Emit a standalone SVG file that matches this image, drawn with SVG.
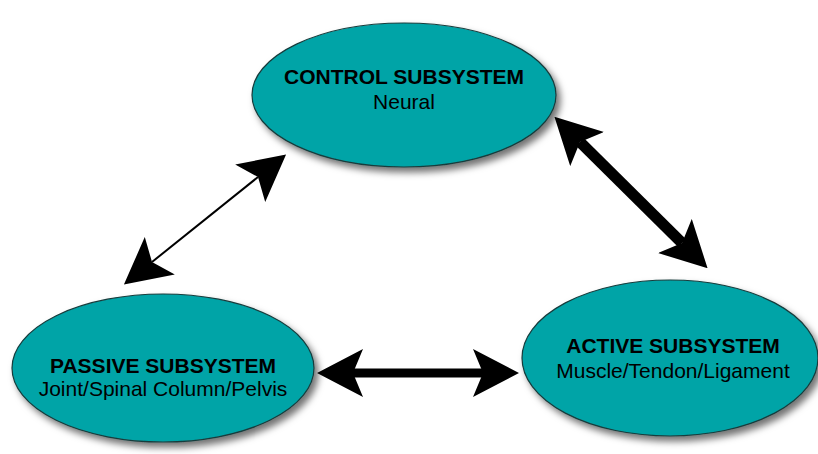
<svg xmlns="http://www.w3.org/2000/svg" width="818" height="454" viewBox="0 0 818 454">
  <style>
    .node { fill: #02a4a7; stroke: #163c3c; stroke-width: 1.2; filter: url(#shadow); }
    .title { font-family: "Liberation Sans", Arial, sans-serif; font-size: 21px; font-weight: bold; fill: #000; text-anchor: middle; }
    .sub { font-family: "Liberation Sans", Arial, sans-serif; font-size: 21px; fill: #000; text-anchor: middle; }
    .link { stroke: #000; fill: none; marker-start: url(#head); marker-end: url(#head); }
  </style>
  <defs>
    <filter id="shadow" x="-10%" y="-10%" width="130%" height="130%">
      <feDropShadow dx="4" dy="5" stdDeviation="3.5" flood-color="#000" flood-opacity="0.55"/>
    </filter>
    <marker id="head" markerUnits="userSpaceOnUse" viewBox="0 0 46 48" markerWidth="46" markerHeight="48" refX="10" refY="24" orient="auto-start-reverse">
      <path d="M0,0 L46,24 L0,48 L10,24 Z" fill="#000"/>
    </marker>
  </defs>

  <g id="connectors">
    <line class="link" x1="152" y1="262" x2="258" y2="177" stroke-width="2"/>
    <line class="link" x1="580" y1="142" x2="682" y2="243" stroke-width="11"/>
    <line class="link" x1="353" y1="373" x2="483" y2="373" stroke-width="9"/>
  </g>

  <g id="control">
    <ellipse class="node" cx="404" cy="95" rx="152" ry="72"/>
    <text class="title" x="404" y="84">CONTROL SUBSYSTEM</text>
    <text class="sub" x="404" y="109">Neural</text>
  </g>

  <g id="passive">
    <ellipse class="node" cx="163" cy="368" rx="151" ry="74"/>
    <text class="title" x="163" y="373">PASSIVE SUBSYSTEM</text>
    <text class="sub" x="163" y="396">Joint/Spinal Column/Pelvis</text>
  </g>

  <g id="active">
    <ellipse class="node" cx="670" cy="358" rx="148" ry="78"/>
    <text class="title" x="673" y="353">ACTIVE SUBSYSTEM</text>
    <text class="sub" x="673" y="378">Muscle/Tendon/Ligament</text>
  </g>
</svg>
